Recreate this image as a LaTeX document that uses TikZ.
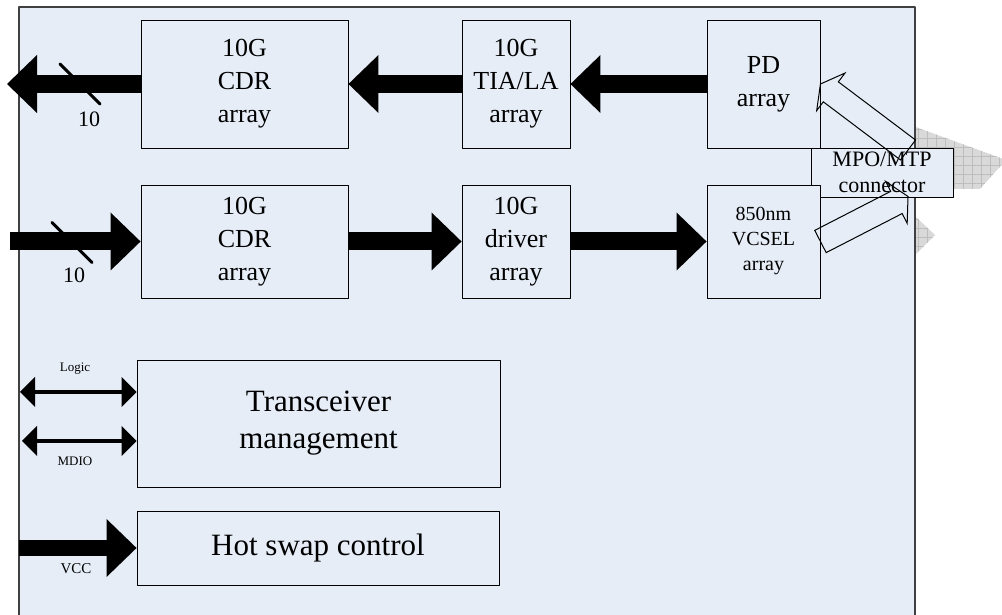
\documentclass[tikz,border=0pt]{standalone}
\usepackage{fontspec}
\setmainfont{Liberation Serif}
\usepackage[x11names, rgb, dvipsnames]{xcolor}
\usepackage{tikz}
\usetikzlibrary{arrows.meta,calc,patterns.meta}

\definecolor{boardblue}{RGB}{230,237,247}
\definecolor{framegray}{RGB}{64,64,64}

\newcommand{\optarrow}[2]{%
  \draw [optic] ($(#1)!12.5bp!90:(#2)$) -- ($(#2)!13bp!(#1)!12.5bp!270:(#1)$)
    -- ($(#2)!13bp!(#1)!23.5bp!270:(#1)$) -- (#2)
    -- ($(#2)!13bp!(#1)!23.5bp!90:(#1)$) -- ($(#2)!13bp!(#1)!12.5bp!90:(#1)$)
    -- ($(#1)!12.5bp!270:(#2)$) -- cycle;}

\begin{document}
\begin{tikzpicture}[>=latex,line join=bevel,
  unit/.style={draw=black,fill=boardblue,line width=0.9bp,inner sep=0pt,align=center,
    font=\fontsize{26bp}{33bp}\selectfont},
  bus/.style={line width=18bp,-{Triangle[length=30bp,width=58bp,line width=0pt]}},
  ctl/.style={line width=4bp,{Triangle[length=15bp,width=30bp,line width=0pt]}-{Triangle[length=15bp,width=30bp,line width=0pt]}},
  tick/.style={line width=3bp,line cap=round},
  optic/.style={draw=black,line width=1bp,line join=miter},
  lbl/.style={inner sep=0pt,anchor=base},
  hatch/.style={fill=black!15,postaction={pattern={Hatch[distance=9bp,line width=0.5bp]},pattern color=black!26}},
]
%%
\useasboundingbox (0bp,0bp) rectangle (1002bp,615bp);
\path [hatch] (880bp,501bp) -- (1006bp,455bp) -- (980bp,426bp) -- (900bp,426bp) -- cycle;
\path [hatch] (900bp,413bp) -- (935bp,380bp) -- (900bp,345bp) -- cycle;
\draw [framegray,line width=2bp,fill=boardblue] (19bp,-10bp) rectangle (915bp,608bp);
%
\node (mpo) at (882bp,442.5bp) [unit,minimum width=142bp,minimum height=49bp,
  font=\fontsize{22bp}{26bp}\selectfont] {MPO/MTP\\connector};
\node (cdrrx) at (244.5bp,531bp) [unit,minimum width=207bp,minimum height=128bp] {10G\\CDR\\array};
\node (tia) at (516bp,531bp) [unit,minimum width=108bp,minimum height=128bp] {10G\\TIA/LA\\array};
\node (pd) at (763.5bp,531bp) [unit,minimum width=113bp,minimum height=128bp] {PD\\array};
\node (cdrtx) at (244.5bp,373.5bp) [unit,minimum width=207bp,minimum height=113bp] {10G\\CDR\\array};
\node (drv) at (516bp,373.5bp) [unit,minimum width=108bp,minimum height=113bp] {10G\\driver\\array};
\node (vcsel) at (763.5bp,373.5bp) [unit,minimum width=113bp,minimum height=113bp,
  font=\fontsize{20bp}{25bp}\selectfont] {850nm\\VCSEL\\array};
\node (mgmt) at (318.5bp,191.5bp) [unit,minimum width=363bp,minimum height=127bp,
  font=\fontsize{31bp}{37bp}\selectfont] {Transceiver\\management};
\node (hsw) at (318bp,67bp) [unit,minimum width=362bp,minimum height=74bp,
  font=\fontsize{31bp}{37bp}\selectfont] {Hot swap control};
%
\coordinate (rxout) at (7bp,531bp);
\coordinate (txin) at (10bp,373.5bp);
\coordinate (lgc) at (20bp,223bp);
\coordinate (mdio) at (22bp,174bp);
\coordinate (vcc) at (19bp,67bp);
\coordinate (rxfib) at (908bp,465bp);
\coordinate (txfib) at (908bp,418.5bp);
%
\draw [bus] (cdrrx) -- (rxout);
\draw [bus] (tia) -- (cdrrx);
\draw [bus] (pd) -- (tia);
\draw [bus] (txin) -- (cdrtx);
\draw [bus] (cdrtx) -- (drv);
\draw [bus] (drv) -- (vcsel);
\draw [bus,line width=16bp] (vcc) -- (hsw);
\draw [ctl] (lgc) -- (lgc -| mgmt.west);
\draw [ctl] (mdio) -- (mdio -| mgmt.west);
\optarrow{rxfib}{pd.east}
\optarrow{vcsel.east}{txfib}
%
\draw [tick] (80bp,531bp) +(-20bp,20bp) -- +(20bp,-20bp);
\draw [tick] (72bp,372.5bp) +(-20bp,20bp) -- +(20bp,-20bp);
\node (n10rx) at (89bp,488bp) [lbl,font=\fontsize{22bp}{26bp}\selectfont] {10};
\node (n10tx) at (74bp,332bp) [lbl,font=\fontsize{22bp}{26bp}\selectfont] {10};
\node (nlgc) at (75bp,243bp) [lbl,font=\fontsize{13bp}{15bp}\selectfont] {Logic};
\node (nmdio) at (75bp,149bp) [lbl,font=\fontsize{13bp}{15bp}\selectfont] {MDIO};
\node (nvcc) at (76bp,41bp) [lbl,font=\fontsize{15bp}{17bp}\selectfont] {VCC};
%
\end{tikzpicture}
\end{document}
